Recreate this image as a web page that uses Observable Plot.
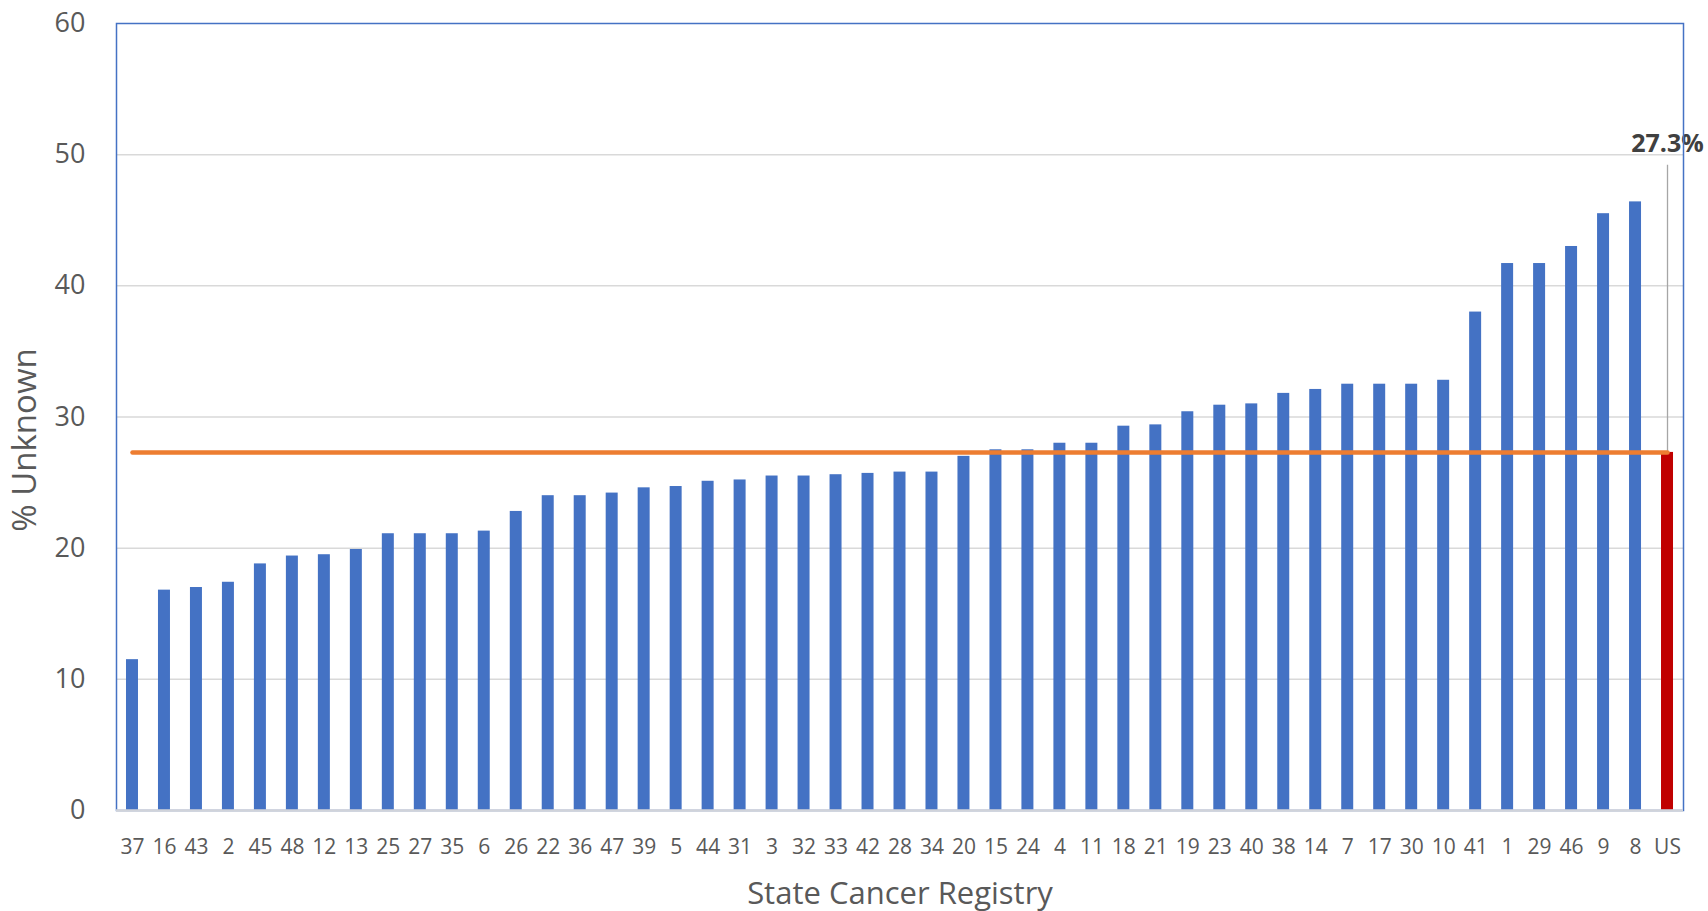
<!DOCTYPE html>
<html><head><meta charset="utf-8">
<script src="https://cdn.jsdelivr.net/npm/d3@7"></script>
<script src="https://cdn.jsdelivr.net/npm/@observablehq/plot@0.6"></script>
<style>html,body{margin:0;padding:0;background:#fff;} svg{display:block}</style>
</head><body><div id="chart"></div>
<script>
const states = ["37","16","43","2","45","48","12","13","25","27","35","6","26","22","36","47","39","5","44","31","3","32","33","42","28","34","20","15","24","4","11","18","21","19","23","40","38","14","7","17","30","10","41","1","29","46","9","8","US"];
const values = [11.5,16.8,17.0,17.4,18.8,19.4,19.5,19.9,21.1,21.1,21.1,21.3,22.8,24.0,24.0,24.2,24.6,24.7,25.1,25.2,25.5,25.5,25.6,25.7,25.8,25.8,27.0,27.5,27.5,28.0,28.0,29.3,29.4,30.4,30.9,31.0,31.8,32.1,32.5,32.5,32.5,32.8,38.0,41.7,41.7,43.0,45.5,46.4,27.3];
const usAverage = 27.3;
const yTicks = [0,10,20,30,40,50,60];
const annotationText = "27.3%";
const xTitle = "State Cancer Registry";
const yTitle = "% Unknown";

const rows = states.map((s,i)=>({state:s, value: values[i], isUS: s==="US"}));
const font = "'Open Sans', sans-serif";
const chart = Plot.plot({
  width:1708, height:911, marginLeft:116, marginRight:25, marginTop:23, marginBottom:101,
  style:{fontFamily: font, color:"#595959", background:"#fff"},
  x:{type:"band", domain: states, paddingInner:0.625, paddingOuter:0.3125, label:null},
  y:{domain:[0,60], label:null},
  marks:[
    Plot.gridY(yTicks.filter(t=>t>0 && t<60), {stroke:"#d9d9d9", strokeOpacity:1, strokeWidth:1.5}),
    Plot.barY(rows, {x:"state", y:"value", fill: d=> d.isUS ? "#C00000" : "#4472C4"}),
    Plot.ruleX(["US"], {y1: usAverage, y2: 49.2, stroke:"#a6a6a6", strokeWidth:1.3}),
    Plot.lineY(rows, {x:"state", y: ()=>usAverage, stroke:"#ED7D31", strokeWidth:4.5, strokeLinecap:"round"}),
    Plot.text([annotationText], {x: ()=>"US", y: ()=>50.8, fontSize:25, fontWeight:"bold", fill:"#404040"}),
    Plot.frame({stroke:"#4472C4", strokeWidth:1.5}),
    Plot.ruleY([0], {stroke:"#d0d3da", strokeWidth:2.5}),
    Plot.axisY(yTicks, {tickSize:0, tickPadding:31, fontSize:27, label:null}),
    Plot.axisX({tickSize:0, tickPadding:29, fontSize:21, label:null}),
    Plot.text([xTitle], {frameAnchor:"bottom", dy:93, fontSize:31, fill:"#595959"}),
    Plot.text([yTitle], {frameAnchor:"left", textAnchor:"middle", dx:-91, dy:23, rotate:-90, fontSize:33, fill:"#595959"})
  ]
});
document.getElementById("chart").appendChild(chart);
</script>
</body></html>
